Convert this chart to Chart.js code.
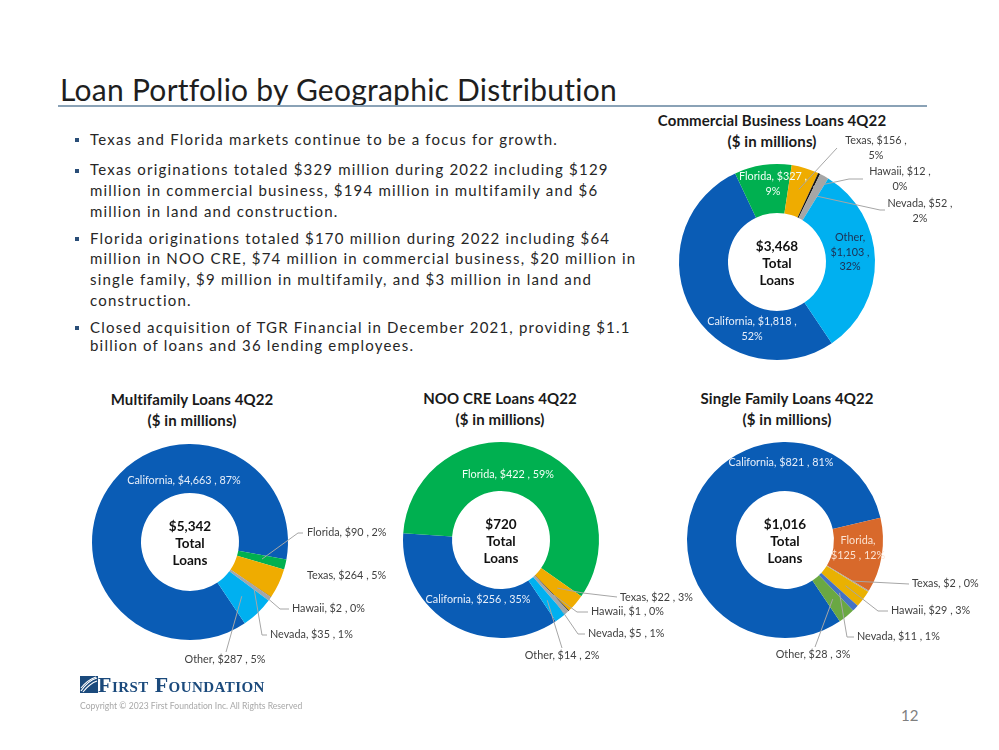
<!DOCTYPE html>
<html>
<head>
<meta charset="utf-8">
<script src="https://cdn.jsdelivr.net/npm/chart.js@4/dist/chart.umd.min.js"></script>
<style>
  html, body { margin:0; padding:0; background:#fff; }
  body { width:999px; height:750px; position:relative; overflow:hidden; font-family:Lato, "Open Sans", sans-serif; font-variant-ligatures:none; font-feature-settings:"liga" 0, "clig" 0; }
  .t { position:absolute; white-space:nowrap; line-height:1; }
  .title { left:60px; top:74px; font-size:30px; color:#1e1e1e; letter-spacing:0.25px; }
  .rule { position:absolute; left:58px; top:105px; width:869px; height:2px; background:#8aa2b6; }
  .bl { position:absolute; left:90px; font-size:15px; color:#262626; letter-spacing:1.2px; white-space:nowrap; line-height:1; }
  .sq { position:absolute; left:75px; width:4px; height:4px; background:#2a4e78; }
  .ct { position:absolute; font-size:15px; font-weight:700; color:#1a1a1a; white-space:nowrap; line-height:1; transform:translateX(-50%); letter-spacing:0.1px; }
  .cv { position:absolute; }
  .logo { position:absolute; left:80px; top:676px; }
  .logotxt { position:absolute; left:98px; top:674px; font-family:"Liberation Serif","DejaVu Serif",serif; font-weight:700; font-size:22px; font-variant:small-caps; color:#1b4a7c; letter-spacing:0.45px; line-height:1; white-space:nowrap; }
  .copy { position:absolute; left:80px; top:702px; font-size:8.6px; color:#a8a8a8; white-space:nowrap; line-height:1; }
  .pg { position:absolute; left:901px; top:708px; font-size:15px; color:#7f7f7f; line-height:1; }
</style>
</head>
<body>
<div class="t title">Loan Portfolio by Geographic Distribution</div>
<div class="rule"></div>

<div id="bullets"></div>
<div id="titles"></div>

<canvas id="c0" class="cv" width="420" height="300"></canvas>
<canvas id="c1" class="cv" width="420" height="300"></canvas>
<canvas id="c2" class="cv" width="420" height="300"></canvas>
<canvas id="c3" class="cv" width="420" height="300"></canvas>

<svg class="logo" width="18" height="17" viewBox="0 0 18 17">
  <rect x="0" y="0" width="18" height="17" fill="#1b4a7c"/>
  <path d="M1 15 C5 9, 10 4, 17 2" stroke="#fff" stroke-width="1.3" fill="none"/>
  <path d="M1 12 C5 7, 10 3, 16 1" stroke="#fff" stroke-width="1.1" fill="none"/>
  <path d="M3 16 C7 11, 11 7, 17 5" stroke="#fff" stroke-width="1.1" fill="none"/>
</svg>
<div class="logotxt">First Foundation</div>
<div class="copy">Copyright © 2023 First Foundation Inc. All Rights Reserved</div>
<div class="pg">12</div>

<script>
// ---------------- DATA ----------------
const regions = ['California', 'Florida', 'Texas', 'Hawaii', 'Nevada', 'Other'];

const commercialValues   = [1818, 327, 156, 12, 52, 1103];
const commercialPercents = [52, 9, 5, 0, 2, 32];

const multifamilyValues   = [4663, 90, 264, 2, 35, 287];
const multifamilyPercents = [87, 2, 5, 0, 1, 5];

const nooCreValues   = [256, 422, 22, 1, 5, 14];
const nooCrePercents = [35, 59, 3, 0, 1, 2];

const singleFamilyValues   = [821, 125, 2, 29, 11, 28];
const singleFamilyPercents = [81, 12, 0, 3, 1, 3];

const totalLoans = [3468, 5342, 720, 1016];

const chartTitles = [
  ['Commercial Business Loans 4Q22', '($ in millions)'],
  ['Multifamily Loans 4Q22', '($ in millions)'],
  ['NOO CRE Loans 4Q22', '($ in millions)'],
  ['Single Family Loans 4Q22', '($ in millions)']
];

const bulletParagraphs = [
  ['Texas and Florida markets continue to be a focus for growth.'],
  ['Texas originations totaled $329 million during 2022 including $129',
   'million in commercial business, $194 million in multifamily and $6',
   'million in land and construction.'],
  ['Florida originations totaled $170 million during 2022 including $64',
   'million in NOO CRE, $74 million in commercial business, $20 million in',
   'single family, $9 million in multifamily, and $3 million in land and',
   'construction.'],
  ['Closed acquisition of TGR Financial in December 2021, providing $1.1',
   'billion of loans and 36 lending employees.']
];

// ---------------- STYLE / LAYOUT ----------------
const bulletLineY = [[140], [170.5, 191.5, 212], [239, 259.5, 280, 301], [328, 346.5]];

const paletteMain = ['#0a5cb5', '#00b050', '#efac00', '#151515', '#a6a6a6', '#00b0f0'];
const paletteSF   = ['#0a5cb5', '#d8692b', '#a5a5a5', '#e9b102', '#4472c4', '#6aa843'];

const OUT = '#404040', INB = '#e8effa', ING = '#f2fff6';

const chartSetups = [
  { values: commercialValues, pcts: commercialPercents, colors: paletteMain, cx: 777, cy: 262,
    title: { x: 772, y: [121, 142] },
    labels: [
      { mode: 'two',   dx: -25, dy: 60,  color: INB, align: 'center' },
      { mode: 'two',   dx: -4,  dy: -85, color: ING, align: 'center' },
      { mode: 'two',   dx: 99,  dy: -121, color: OUT, align: 'center', f: 0.55, leader: [[60, -114]] },
      { mode: 'two',   dx: 123, dy: -90, color: OUT, align: 'center', f: 0.7, leader: [[72, -83], [86, -83]] },
      { mode: 'two',   dx: 143, dy: -58, color: OUT, align: 'center', f: 0.55, leader: [[103, -52], [108, -52]] },
      { mode: 'three', dx: 73,  dy: -24, color: '#1d2f52', align: 'center' }
    ] },
  { values: multifamilyValues, pcts: multifamilyPercents, colors: paletteMain, cx: 190, cy: 542,
    title: { x: 192, y: [400, 421] },
    labels: [
      { mode: 'one', dx: -6,  dy: -61, color: INB, align: 'center' },
      { mode: 'one', dx: 117, dy: -9,  color: OUT, align: 'left', f: 0.51, leader: [[108, -9], [113, -9]] },
      { mode: 'one', dx: 117, dy: 34,  color: OUT, align: 'left' },
      { mode: 'one', dx: 102, dy: 67,  color: OUT, align: 'left', f: 0.45, leader: [[90, 67], [99, 67]] },
      { mode: 'one', dx: 80,  dy: 93,  color: OUT, align: 'left', f: 0.6, leader: [[72, 93], [77, 93]] },
      { mode: 'one', dx: 35,  dy: 118, color: OUT, align: 'center', f: 0.53, leader: [[36, 110]] }
    ] },
  { values: nooCreValues, pcts: nooCrePercents, colors: paletteMain, cx: 501, cy: 540,
    title: { x: 500, y: [399, 420] },
    labels: [
      { mode: 'one', dx: -23, dy: 60,  color: INB, align: 'center' },
      { mode: 'one', dx: 7,   dy: -65, color: ING, align: 'center' },
      { mode: 'one', dx: 119, dy: 58,  color: OUT, align: 'left', f: 0.51, leader: [[82, 53], [116, 57]] },
      { mode: 'one', dx: 90,  dy: 72,  color: OUT, align: 'left', f: 0.55, leader: [[76, 72], [87, 72]] },
      { mode: 'one', dx: 87,  dy: 94,  color: OUT, align: 'left', f: 0.55, leader: [[77, 94], [84, 94]] },
      { mode: 'one', dx: 61,  dy: 116, color: OUT, align: 'center', f: 0.55, leader: [[61, 108]] }
    ] },
  { values: singleFamilyValues, pcts: singleFamilyPercents, colors: paletteSF, cx: 785, cy: 540,
    title: { x: 787, y: [399, 420] },
    labels: [
      { mode: 'one',       dx: -4,  dy: -77, color: INB, align: 'center' },
      { mode: 'nameSplit', dx: 73,  dy: 1,   color: '#fbe3d2', align: 'center' },
      { mode: 'one', dx: 127, dy: 44, color: OUT, align: 'left', f: 0.6, leader: [[124, 44]] },
      { mode: 'one', dx: 106, dy: 71, color: OUT, align: 'left', f: 0.55, leader: [[93, 71], [103, 71]] },
      { mode: 'one', dx: 72,  dy: 97, color: OUT, align: 'left', f: 0.55, leader: [[62, 97], [69, 97]] },
      { mode: 'one', dx: 28,  dy: 115, color: OUT, align: 'center', f: 0.55, leader: [[30, 107]] }
    ] }
];

const CW = 420, CH = 300, RADIUS = 98, ROTATION = 146;

// ---------------- SLIDE TEXT ----------------
(function () {
  const b = document.getElementById('bullets');
  bulletParagraphs.forEach((para, pi) => {
    const sq = document.createElement('div');
    sq.className = 'sq';
    sq.style.top = (bulletLineY[pi][0] - 2) + 'px';
    b.appendChild(sq);
    para.forEach((line, li) => {
      const d = document.createElement('div');
      d.className = 'bl';
      d.textContent = line;
      d.style.top = (bulletLineY[pi][li] - 8.5) + 'px';
      b.appendChild(d);
    });
  });
  const t = document.getElementById('titles');
  chartSetups.forEach((s, i) => {
    chartTitles[i].forEach((line, li) => {
      const d = document.createElement('div');
      d.className = 'ct';
      d.textContent = line;
      d.style.left = s.title.x + 'px';
      d.style.top = (s.title.y[li] - 8.3) + 'px';
      t.appendChild(d);
    });
  });
})();

// ---------------- LABEL PLUGIN ----------------
const fmt = v => '$' + v.toLocaleString('en-US');

function labelLines(mode, name, v, p) {
  if (mode === 'two') return [name + ', ' + fmt(v) + ' ,', p + '%'];
  if (mode === 'three') return [name + ',', fmt(v) + ' ,', p + '%'];
  if (mode === 'nameSplit') return [name + ',', fmt(v) + ' , ' + p + '%'];
  return [name + ', ' + fmt(v) + ' , ' + p + '%'];
}

const donutLabels = {
  id: 'donutLabels',
  afterDatasetsDraw(chart, args, opts) {
    const ctx = chart.ctx;
    const meta = chart.getDatasetMeta(0);
    const setup = opts.setup;
    const first = meta.data[0];
    const cx = first.x, cy = first.y;
    ctx.save();
    ctx.strokeStyle = '#a6a6a6';
    ctx.lineWidth = 1;
    setup.labels.forEach((lab, i) => {
      if (!lab.leader) return;
      const arc = meta.data[i];
      const mid = (arc.startAngle + arc.endAngle) / 2;
      const r = arc.innerRadius + (arc.outerRadius - arc.innerRadius) * lab.f;
      ctx.beginPath();
      ctx.moveTo(cx + Math.cos(mid) * r, cy + Math.sin(mid) * r);
      lab.leader.forEach(pt => ctx.lineTo(cx + pt[0], cy + pt[1]));
      ctx.stroke();
    });
    ctx.font = '10.8px Lato, "Open Sans", sans-serif';
    ctx.textBaseline = 'middle';
    setup.labels.forEach((lab, i) => {
      const lines = labelLines(lab.mode, regions[i], setup.values[i], setup.pcts[i]);
      ctx.fillStyle = lab.color;
      ctx.textAlign = lab.align;
      lines.forEach((ln, k) => ctx.fillText(ln, cx + lab.dx, cy + lab.dy + k * 14.5));
    });
    ctx.font = 'bold 13.5px Lato, "Open Sans", sans-serif';
    ctx.fillStyle = '#111111';
    ctx.textAlign = 'center';
    ['$' + totalLoans[opts.index].toLocaleString('en-US'), 'Total', 'Loans']
      .forEach((ln, k) => ctx.fillText(ln, cx, cy - 15 + k * 17));
    ctx.restore();
  }
};

// ---------------- CHARTS ----------------
chartSetups.forEach((s, i) => {
  const cv = document.getElementById('c' + i);
  cv.style.left = (s.cx - CW / 2) + 'px';
  cv.style.top = (s.cy - CH / 2) + 'px';
  new Chart(cv, {
    type: 'doughnut',
    data: {
      labels: regions,
      datasets: [{
        data: s.values,
        backgroundColor: s.colors,
        borderWidth: 0,
        hoverOffset: 0,
        offset: 0
      }]
    },
    options: {
      responsive: false,
      maintainAspectRatio: false,
      devicePixelRatio: 1,
      animation: false,
      radius: RADIUS,
      cutout: '50%',
      rotation: ROTATION,
      layout: { padding: 0 },
      events: [],
      plugins: {
        legend: { display: false },
        tooltip: { enabled: false },
        title: { display: false },
        donutLabels: { setup: s, index: i }
      }
    },
    plugins: [donutLabels]
  });
});
</script>
</body>
</html>
